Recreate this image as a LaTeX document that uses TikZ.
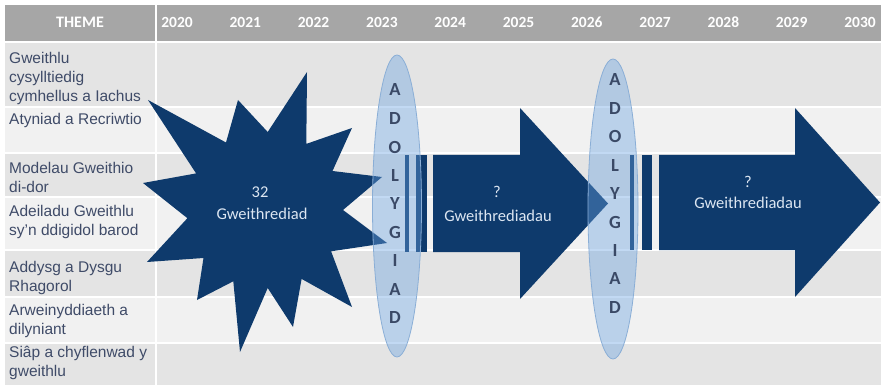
\documentclass[tikz,border=0pt]{standalone}
\usepackage{fontspec}
\setmainfont{Liberation Sans}
\newfontfamily\carlito{Carlito}
\definecolor{navy}{HTML}{0E3A6C}
\definecolor{hdr}{HTML}{A6A6A6}
\definecolor{rowA}{HTML}{E4E4E4}
\definecolor{rowB}{HTML}{F1F1F1}
\definecolor{themetxt}{HTML}{3F4B68}
\definecolor{ellfill}{HTML}{68A2E1}
\definecolor{ellline}{HTML}{8AAED6}
\definecolor{lettr}{HTML}{3A4966}
\definecolor{lighttxt}{HTML}{DCE6F2}
\begin{document}
\begin{tikzpicture}[x=1pt,y=-1pt,
  themetext/.style={anchor=north west, inner sep=0pt, align=left, text=themetxt, font=\fontsize{15.5}{19}\selectfont},
  yearlbl/.style={text=white, inner sep=0pt, font=\carlito\bfseries\fontsize{15.5}{18}\selectfont},
  shapetxt/.style={text=lighttxt, inner sep=0pt, font=\carlito\fontsize{16.5}{20}\selectfont},
  lettrstyle/.style={text=lettr, inner sep=0pt, font=\carlito\bfseries\fontsize{18.5}{20}\selectfont},
  darkshape/.style={fill=navy},
  adolell/.style={fill=ellfill, fill opacity=.4, draw=ellline, line width=.8pt}]
\useasboundingbox (0,0) rectangle (881,385);
\fill[white] (0,0) rectangle (881,385);
% header
\fill[hdr] (5,5) rectangle (881,41);
% rows
\fill[rowA] (5,43) rectangle (881,106.3);
\fill[rowB] (5,107.7) rectangle (881,152.3);
\fill[rowA] (5,153.7) rectangle (881,196.3);
\fill[rowB] (5,197.7) rectangle (881,249.3);
\fill[rowA] (5,250.7) rectangle (881,296.3);
\fill[rowB] (5,297.7) rectangle (881,342.3);
\fill[rowA] (5,343.7) rectangle (881,385);
\draw[white, line width=1.2pt] (156,5) -- (156,385);
% header texts
\node[yearlbl, font=\carlito\bfseries\fontsize{16}{18}\selectfont] (theme) at (80,22) {THEME};
\foreach \yr [count=\i from 0] in {2020,2021,2022,2023,2024,2025,2026,2027,2028,2029,2030}
  \node[yearlbl] (yr\i) at ({177+68.3*\i},22) {\yr};
% theme texts
\node[themetext] (t1) at (9,52) {Gweithlu\\cysylltiedig\\cymhellus a Iachus};
\node[themetext] (t2) at (9,113) {Atyniad a Recriwtio};
\node[themetext] (t3) at (9,162) {Modelau Gweithio\\di-dor};
\node[themetext] (t4) at (9,205) {Adeiladu Gweithlu\\sy'n ddigidol barod};
\node[themetext] (t5) at (9,261) {Addysg a Dysgu\\Rhagorol};
\node[themetext] (t6) at (9,304) {Arweinyddiaeth a\\dilyniant};
\node[themetext] (t7) at (9,346) {Siâp a chyflenwad y\\gweithlu};
% star
\fill[darkshape] (148,100) -- (226,142.5) -- (238,100) -- (267.7,132) -- (307,72)
  -- (306.3,143.9) -- (352,128) -- (332.5,171) -- (382,177) -- (343,210)
  -- (387,243) -- (331.1,251.3) -- (352,307) -- (301.6,278.9) -- (293,327)
  -- (267.7,288) -- (240,352) -- (233.3,281.3) -- (197,300) -- (203.5,258)
  -- (147,262) -- (187.4,218.2) -- (143,183) -- (196.1,173.4) -- cycle;
% arrow 1
\fill[darkshape] (405,155) rectangle (409,252);
\fill[darkshape] (416,155) rectangle (427,252);
\fill[darkshape] (433,155) -- (520,155) -- (520,108) -- (608,203.5) -- (520,299) -- (520,252) -- (433,252) -- cycle;
% arrow 2
\fill[darkshape] (630,155) rectangle (634,250);
\fill[darkshape] (642,155) rectangle (652,250);
\fill[darkshape] (659,155) -- (795,155) -- (795,108) -- (880,202.5) -- (795,297) -- (795,250) -- (659,250) -- cycle;
% shape texts
\node[shapetxt] (s1a) at (260,192) {32};
\node[shapetxt] (s1b) at (262,214) {Gweithrediad};
\node[shapetxt] (s2a) at (497,192) {?};
\node[shapetxt] (s2b) at (498,216) {Gweithrediadau};
\node[shapetxt] (s3a) at (748,182) {?};
\node[shapetxt] (s3b) at (748,203) {Gweithrediadau};
% review ellipses
\path[adolell] (397,206) ellipse [x radius=24.5pt, y radius=151pt];
\path[adolell] (613,209) ellipse [x radius=25pt, y radius=150pt];
\foreach \L [count=\i from 0] in {A,D,O,L,Y,G,I,A,D} {
  \node[lettrstyle] (la\i) at (395,{90+28.5*\i}) {\L};
  \node[lettrstyle] (lb\i) at (615,{80+28.4*\i}) {\L};
}
\end{tikzpicture}
\end{document}
